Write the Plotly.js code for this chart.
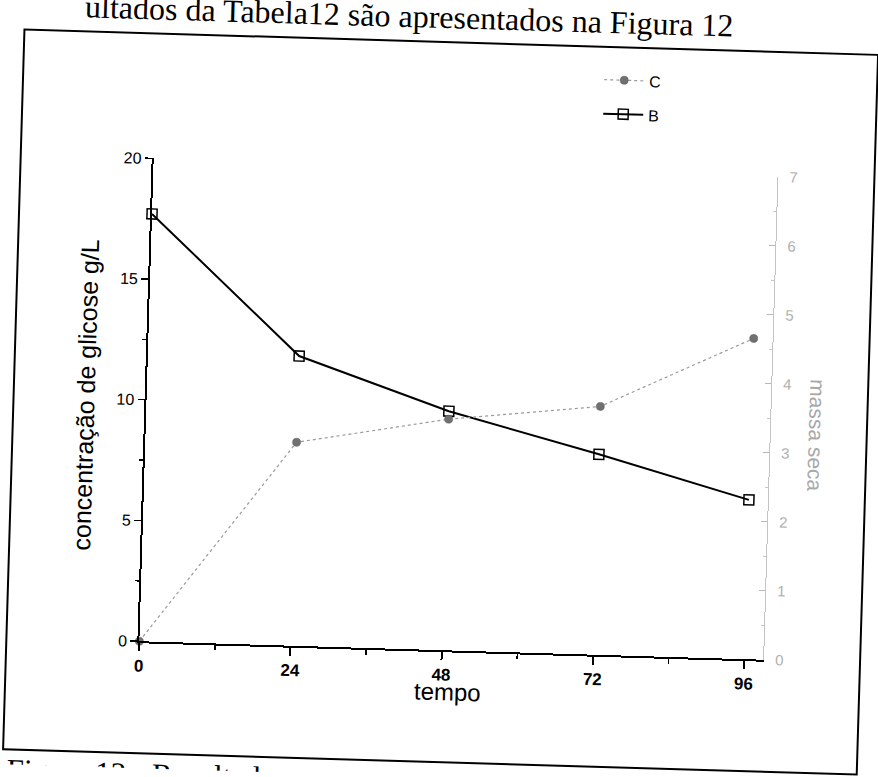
<!DOCTYPE html>
<html>
<head>
<meta charset="utf-8">
<script src="https://cdn.plot.ly/plotly-3.0.1.min.js"></script>
<style>
  html, body { margin: 0; padding: 0; background: #ffffff; overflow: hidden; width: 878px; height: 777px; }
  #chart { width: 878px; height: 777px; transform: rotate(1.7deg); transform-origin: 439px 388px; }
</style>
</head>
<body>
<div id="chart"></div>
<script>
// ---- data ----
const tempo = [0, 24, 48, 72, 96];
const glicoseB = [17.7, 12.0, 9.9, 8.3, 6.6];     // left axis, g/L
const massaC = [0, 2.95, 3.35, 3.6, 4.65];        // right axis
const xTickVals = [0, 24, 48, 72, 96];
const xTickText = ['0', '24', '48', '72', '96'];
const yTickVals = [0, 5, 10, 15, 20];
const y2TickVals = [0, 1, 2, 3, 4, 5, 6, 7];
const nameC = 'C';
const nameB = 'B';
const titleX = 'tempo';
const titleY = 'concentração de glicose g/L';
const titleY2 = 'massa seca';
const topText = 'ultados da Tabela12 são apresentados na Figura 12';
const bottomText = 'Figura 12 - Resultados';

// ---- page geometry (pixels of the unrotated page) ----
const W = 878, H = 777;
const L = 147, R = 771, T = 167, B = 650;
const pw = R - L, ph = B - T;
const px = v => (v - L) / pw;
const py = v => (B - v) / ph;

const traceC = {
  x: tempo, y: massaC, yaxis: 'y2', name: nameC, type: 'scatter', mode: 'lines+markers',
  line: { color: '#9a9a9a', width: 1.2, dash: 'dot' },
  marker: { symbol: 'circle', size: 8, color: '#707070', line: { color: '#555', width: 0.5 } },
  cliponaxis: false, legend: 'legend'
};
const traceB = {
  x: tempo, y: glicoseB, yaxis: 'y', name: nameB, type: 'scatter', mode: 'lines+markers',
  line: { color: '#000000', width: 2 },
  marker: { symbol: 'square-open', size: 10, color: '#000000', line: { width: 1.5 } },
  cliponaxis: false, legend: 'legend2'
};

const layout = {
  width: W, height: H, autosize: false,
  margin: { l: L, r: W - R, t: T, b: H - B, pad: 0 },
  paper_bgcolor: '#ffffff', plot_bgcolor: 'rgba(0,0,0,0)',
  font: { family: 'Arial, Liberation Sans, sans-serif', color: '#000' },
  showlegend: true,
  xaxis: {
    range: [0, 99], showgrid: false, zeroline: false,
    showline: true, linecolor: '#000', linewidth: 2,
    tickmode: 'array', tickvals: xTickVals, ticktext: xTickText,
    ticks: 'outside', ticklen: 8, tickwidth: 2, tickcolor: '#000',
    minor: { dtick: 12, tick0: 0, ticks: 'outside', ticklen: 5, tickwidth: 1.5, tickcolor: '#000', showgrid: false },
    tickfont: { size: 17, weight: 'bold', family: 'Arial, Liberation Sans, sans-serif' },
    fixedrange: true
  },
  yaxis: {
    range: [0, 20], showgrid: false, zeroline: false,
    showline: true, linecolor: '#000', linewidth: 2,
    tickmode: 'array', tickvals: yTickVals,
    ticks: 'outside', ticklen: 7, tickwidth: 1.5, tickcolor: '#000',
    minor: { dtick: 2.5, tick0: 0, ticks: 'outside', ticklen: 4, tickwidth: 1.5, tickcolor: '#000', showgrid: false },
    tickfont: { size: 16 },
    fixedrange: true
  },
  yaxis2: {
    range: [0, 7], overlaying: 'y', side: 'right', showgrid: false, zeroline: false,
    showline: true, linecolor: '#c4c4c4', linewidth: 1,
    tickmode: 'array', tickvals: y2TickVals,
    ticks: 'inside', ticklen: 6, tickwidth: 1, tickcolor: '#b8b8b8',
    minor: { dtick: 0.5, tick0: 0, ticks: 'inside', ticklen: 3, tickwidth: 1, tickcolor: '#c8c8c8', showgrid: false },
    tickfont: { size: 15, color: '#b0b0b0' }, ticklabelstandoff: 8,
    fixedrange: true
  },
  legend: {
    x: px(590), y: py(75), xanchor: 'left', yanchor: 'middle', itemwidth: 40,
    bgcolor: 'rgba(0,0,0,0)', borderwidth: 0, font: { size: 16, color: '#000' }
  },
  legend2: {
    x: px(590), y: py(109), xanchor: 'left', yanchor: 'middle', itemwidth: 40,
    bgcolor: 'rgba(0,0,0,0)', borderwidth: 0, font: { size: 16, color: '#000' }
  },
  annotations: [
    { text: titleX, xref: 'paper', yref: 'paper', x: px(456), y: py(691), xanchor: 'center', yanchor: 'middle',
      showarrow: false, font: { size: 24, color: '#000' } },
    { text: titleY, xref: 'paper', yref: 'paper', x: px(86), y: py(406), xanchor: 'center', yanchor: 'middle',
      textangle: -90, showarrow: false, font: { size: 25, color: '#000' } },
    { text: titleY2, xref: 'paper', yref: 'paper', x: px(818), y: py(424), xanchor: 'center', yanchor: 'middle',
      textangle: 90, showarrow: false, font: { size: 21, color: '#a8a8a8' } },
    { text: topText, xref: 'paper', yref: 'paper', x: px(398), y: py(17), xanchor: 'center', yanchor: 'middle',
      showarrow: false, font: { size: 32, color: '#000', family: 'Liberation Serif, Times New Roman, serif' } },
    { text: bottomText, xref: 'paper', yref: 'paper', x: px(16), y: py(763), xanchor: 'left', yanchor: 'top',
      showarrow: false, font: { size: 31, color: '#000', family: 'Liberation Serif, Times New Roman, serif' } }
  ],
  shapes: [
    { type: 'rect', xref: 'paper', yref: 'paper', x0: px(14), x1: px(868), y0: py(762), y1: py(42),
      line: { color: '#000', width: 2 }, fillcolor: 'rgba(0,0,0,0)', layer: 'below' }
  ]
};

Plotly.newPlot('chart', [traceC, traceB], layout, { displayModeBar: false, staticPlot: true });
</script>
</body>
</html>
